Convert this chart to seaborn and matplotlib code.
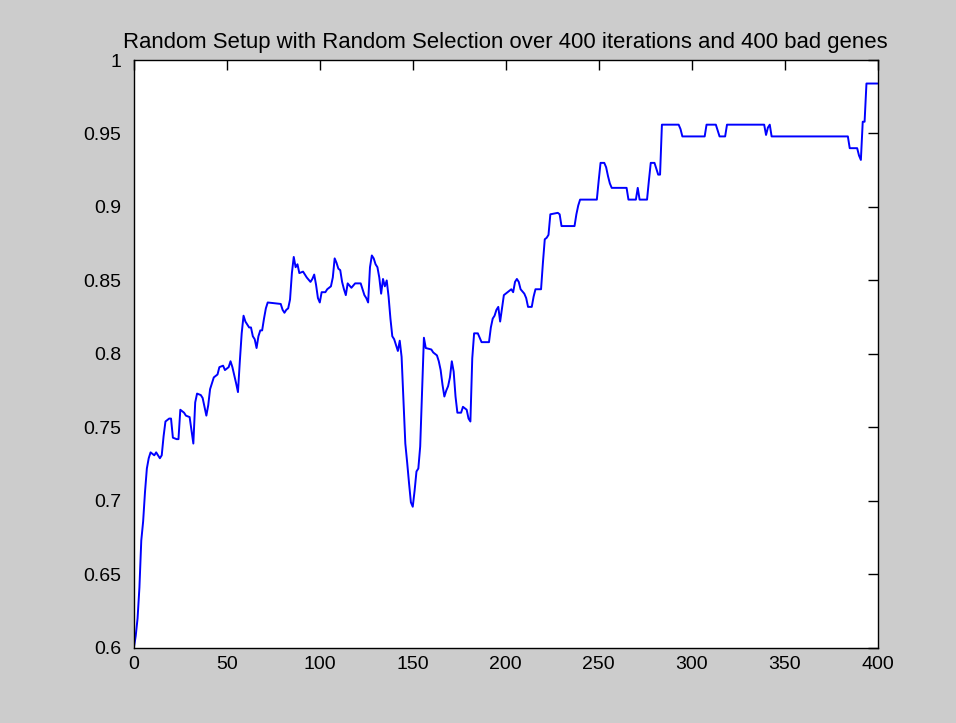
import matplotlib
matplotlib.use("Agg")
import matplotlib.pyplot as plt
import seaborn as sns
import pandas as pd

title_text = "Random Setup with Random Selection over 400 iterations and 400 bad genes"

iterations = [
    0, 1, 2, 3, 4, 5, 6, 7, 8, 9, 11, 12, 13, 14, 15, 16, 17, 19, 20, 21, 23, 24,
    25, 27, 28, 30, 31, 32, 33, 34, 36, 37, 38, 39, 40, 41, 43, 45, 46, 48, 49,
    51, 52, 53, 55, 56, 57, 58, 59, 60, 62, 63, 64, 65, 66, 67, 68, 69, 70, 71,
    72, 79, 80, 81, 82, 83, 84, 85, 86, 87, 88, 89, 91, 92, 93, 95, 96, 97, 98,
    99, 100, 101, 103, 104, 106, 107, 108, 109, 110, 111, 112, 113, 114, 115,
    117, 119, 122, 123, 124, 125, 126, 127, 128, 129, 130, 131, 132, 133, 134,
    135, 136, 137, 138, 139, 140, 141, 142, 143, 144, 145, 146, 147, 148, 149,
    150, 151, 152, 153, 154, 155, 156, 157, 160, 161, 163, 164, 165, 166, 167,
    168, 169, 170, 171, 172, 173, 174, 176, 177, 179, 180, 181, 182, 183, 185,
    186, 187, 191, 192, 193, 194, 195, 196, 197, 198, 199, 201, 203, 204, 205,
    206, 207, 208, 210, 211, 212, 214, 215, 216, 219, 220, 221, 222, 223, 224,
    228, 229, 230, 237, 238, 239, 240, 249, 250, 251, 253, 254, 255, 256, 257,
    265, 266, 270, 271, 272, 276, 277, 278, 280, 281, 282, 283, 284, 293, 294,
    295, 307, 308, 313, 315, 318, 319, 339, 340, 341, 342, 343, 384, 385, 389,
    390, 391, 392, 393, 394, 400,
]

accuracy = [
    0.600, 0.608, 0.620, 0.641, 0.673, 0.686, 0.706, 0.722, 0.729, 0.733, 0.731,
    0.733, 0.731, 0.729, 0.731, 0.744, 0.754, 0.756, 0.756, 0.743, 0.742, 0.742,
    0.762, 0.760, 0.758, 0.757, 0.748, 0.739, 0.767, 0.773, 0.772, 0.770, 0.764,
    0.758, 0.765, 0.776, 0.784, 0.786, 0.791, 0.792, 0.789, 0.791, 0.795, 0.791,
    0.780, 0.774, 0.795, 0.814, 0.826, 0.822, 0.818, 0.818, 0.812, 0.810, 0.804,
    0.812, 0.816, 0.816, 0.824, 0.831, 0.835, 0.834, 0.830, 0.828, 0.830, 0.831,
    0.837, 0.855, 0.866, 0.859, 0.861, 0.855, 0.856, 0.854, 0.852, 0.849, 0.851,
    0.854, 0.847, 0.838, 0.835, 0.842, 0.842, 0.844, 0.846, 0.852, 0.865, 0.862,
    0.858, 0.857, 0.849, 0.844, 0.840, 0.848, 0.845, 0.848, 0.848, 0.844, 0.840,
    0.838, 0.835, 0.859, 0.867, 0.865, 0.861, 0.859, 0.852, 0.841, 0.851, 0.846,
    0.850, 0.839, 0.824, 0.812, 0.810, 0.806, 0.802, 0.809, 0.798, 0.769, 0.739,
    0.726, 0.712, 0.699, 0.696, 0.707, 0.720, 0.722, 0.737, 0.773, 0.811, 0.804,
    0.803, 0.801, 0.799, 0.795, 0.789, 0.779, 0.771, 0.775, 0.778, 0.784, 0.795,
    0.788, 0.771, 0.760, 0.760, 0.764, 0.762, 0.756, 0.754, 0.797, 0.814, 0.814,
    0.811, 0.808, 0.808, 0.818, 0.824, 0.826, 0.830, 0.832, 0.822, 0.831, 0.840,
    0.842, 0.844, 0.842, 0.849, 0.851, 0.849, 0.844, 0.841, 0.838, 0.832, 0.832,
    0.839, 0.844, 0.844, 0.862, 0.878, 0.879, 0.881, 0.895, 0.896, 0.895, 0.887,
    0.887, 0.895, 0.901, 0.905, 0.905, 0.918, 0.930, 0.930, 0.927, 0.921, 0.916,
    0.913, 0.913, 0.905, 0.905, 0.913, 0.905, 0.905, 0.918, 0.930, 0.930, 0.926,
    0.922, 0.922, 0.956, 0.956, 0.953, 0.948, 0.948, 0.956, 0.956, 0.948, 0.948,
    0.956, 0.956, 0.949, 0.954, 0.956, 0.948, 0.948, 0.940, 0.940, 0.935, 0.932,
    0.958, 0.958, 0.984, 0.984,
]

x_ticks = [0, 50, 100, 150, 200, 250, 300, 350, 400]
x_tick_labels = ["0", "50", "100", "150", "200", "250", "300", "350", "400"]
y_ticks = [0.6, 0.65, 0.7, 0.75, 0.8, 0.85, 0.9, 0.95, 1.0]
y_tick_labels = ["0.6", "0.65", "0.7", "0.75", "0.8", "0.85", "0.9", "0.95", "1"]

sns.set_style("white")
plt.rcParams["font.family"] = ["Liberation Sans", "DejaVu Sans"]

df = pd.DataFrame({"iteration": iterations, "accuracy": accuracy})

fig = plt.figure(figsize=(9.56, 7.23), dpi=100, facecolor="#cccccc")
ax = fig.add_axes([0.140, 0.104, 0.778, 0.813])
ax.set_facecolor("white")

sns.lineplot(data=df, x="iteration", y="accuracy", ax=ax, color="#0000ff",
             linewidth=1.4, estimator=None, sort=False)

ax.set_xlim(0, 400)
ax.set_ylim(0.6, 1.0)
ax.set_xticks(x_ticks)
ax.set_xticklabels(x_tick_labels)
ax.set_yticks(y_ticks)
ax.set_yticklabels(y_tick_labels)
ax.set_xlabel("")
ax.set_ylabel("")
ax.tick_params(direction="in", length=7, width=1, colors="black",
               labelsize=14, top=True, right=True)
ax.tick_params(axis="y", pad=9)
ax.tick_params(axis="x", pad=6)
for s in ax.spines.values():
    s.set_visible(True)
    s.set_color("black")
    s.set_linewidth(1)
ax.grid(False)
ax.set_title(title_text, fontsize=15.9, pad=9, color="black")

fig.savefig("out.png", dpi=100, facecolor=fig.get_facecolor())
